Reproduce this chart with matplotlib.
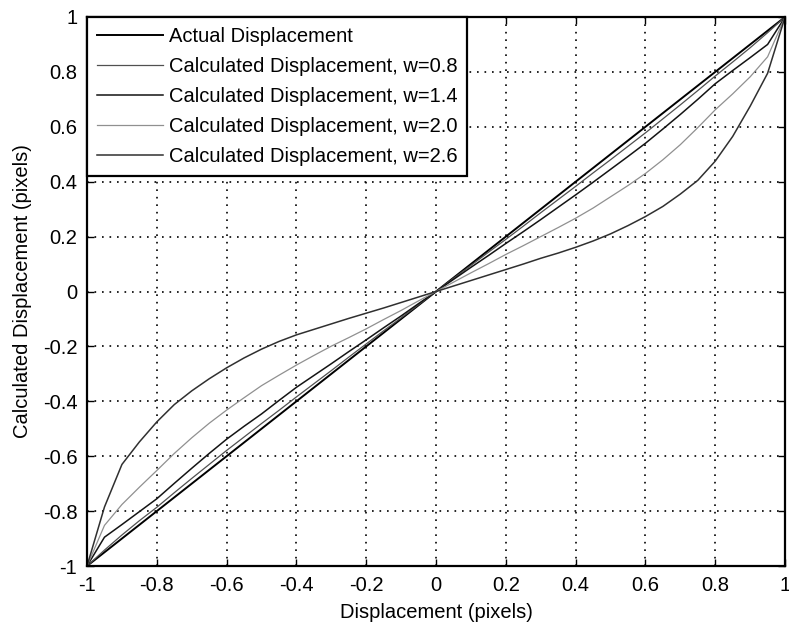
import numpy as np
import matplotlib
matplotlib.use("Agg")
import matplotlib.pyplot as plt

plt.rcParams['font.family'] = ['Liberation Sans', 'DejaVu Sans']

# Sample positions (pixels)
x = [-1.0, -0.95, -0.9, -0.85, -0.8, -0.75, -0.7, -0.65, -0.6, -0.55, -0.5,
     -0.45, -0.4, -0.35, -0.3, -0.25, -0.2, -0.15, -0.1, -0.05, 0.0,
     0.05, 0.1, 0.15, 0.2, 0.25, 0.3, 0.35, 0.4, 0.45, 0.5,
     0.55, 0.6, 0.65, 0.7, 0.75, 0.8, 0.85, 0.9, 0.95, 1.0]

actual = [-1.0, -0.95, -0.9, -0.85, -0.8, -0.75, -0.7, -0.65, -0.6, -0.55, -0.5,
          -0.45, -0.4, -0.35, -0.3, -0.25, -0.2, -0.15, -0.1, -0.05, 0.0,
          0.05, 0.1, 0.15, 0.2, 0.25, 0.3, 0.35, 0.4, 0.45, 0.5,
          0.55, 0.6, 0.65, 0.7, 0.75, 0.8, 0.85, 0.9, 0.95, 1.0]

calc_w08 = [-1.0, -0.942, -0.887, -0.835, -0.786, -0.733, -0.681, -0.63, -0.579, -0.53, -0.481,
            -0.433, -0.384, -0.336, -0.288, -0.239, -0.191, -0.143, -0.096, -0.048, 0.0,
            0.048, 0.095, 0.143, 0.19, 0.238, 0.287, 0.335, 0.383, 0.432, 0.48,
            0.529, 0.578, 0.629, 0.68, 0.732, 0.785, 0.836, 0.888, 0.943, 1.0]

calc_w14 = [-1.0, -0.895, -0.849, -0.802, -0.755, -0.699, -0.644, -0.59, -0.538, -0.491, -0.446,
            -0.397, -0.349, -0.306, -0.263, -0.219, -0.176, -0.132, -0.089, -0.044, 0.0,
            0.044, 0.088, 0.131, 0.175, 0.218, 0.262, 0.307, 0.352, 0.398, 0.445,
            0.492, 0.54, 0.592, 0.645, 0.7, 0.757, 0.805, 0.852, 0.9, 1.0]

calc_w20 = [-1.0, -0.852, -0.776, -0.713, -0.652, -0.59, -0.533, -0.48, -0.432, -0.387, -0.343,
            -0.305, -0.268, -0.233, -0.199, -0.168, -0.136, -0.102, -0.069, -0.034, 0.0,
            0.034, 0.068, 0.101, 0.135, 0.167, 0.2, 0.233, 0.267, 0.304, 0.345,
            0.386, 0.43, 0.48, 0.535, 0.597, 0.662, 0.72, 0.782, 0.855, 1.0]

calc_w26 = [-1.0, -0.785, -0.63, -0.548, -0.475, -0.412, -0.362, -0.318, -0.278, -0.242, -0.21,
            -0.182, -0.158, -0.138, -0.118, -0.098, -0.079, -0.06, -0.04, -0.02, 0.0,
            0.02, 0.04, 0.06, 0.08, 0.1, 0.121, 0.14, 0.161, 0.184, 0.21,
            0.24, 0.273, 0.31, 0.355, 0.405, 0.475, 0.565, 0.675, 0.795, 1.0]

labels = ["Actual Displacement",
          "Calculated Displacement, w=0.8",
          "Calculated Displacement, w=1.4",
          "Calculated Displacement, w=2.0",
          "Calculated Displacement, w=2.6"]

ticks = [-1, -0.8, -0.6, -0.4, -0.2, 0, 0.2, 0.4, 0.6, 0.8, 1]
tick_labels = ["-1", "-0.8", "-0.6", "-0.4", "-0.2", "0", "0.2", "0.4", "0.6", "0.8", "1"]

fig = plt.figure(figsize=(7.89, 6.25), dpi=100)
ax = fig.add_axes([0.1103, 0.0944, 0.8847, 0.8784])

series = [actual, calc_w08, calc_w14, calc_w20, calc_w26]
colors = ['#000000', '#505050', '#141414', '#909090', '#303030']
widths = [1.4, 0.9, 1.1, 0.9, 1.1]
for ys, c, lw, lab in zip(series, colors, widths, labels):
    ax.plot(x, ys, color=c, lw=lw, label=lab)

ax.set_xlim(-1, 1)
ax.set_ylim(-1, 1)
ax.set_xticks(ticks)
ax.set_xticklabels(tick_labels)
ax.set_yticks(ticks)
ax.set_yticklabels(tick_labels)
ax.tick_params(direction='in', length=5, width=1, labelsize=14.5, pad=7,
               top=True, right=True, colors='black')
ax.grid(True, color='black', linestyle=(0, (1, 3.5)), linewidth=1.2)
for sp in ax.spines.values():
    sp.set_linewidth(1.6)
    sp.set_color('black')

ax.set_xlabel("Displacement (pixels)", fontsize=14.5, labelpad=6)
ax.set_ylabel("Calculated Displacement (pixels)", fontsize=14.5, labelpad=8)

leg = ax.legend(loc='upper left', borderaxespad=0, fontsize=14.5, frameon=True,
                fancybox=False, handlelength=3.25, handletextpad=0.3,
                labelspacing=0.55, borderpad=0.5)
leg.get_frame().set_edgecolor('black')
leg.get_frame().set_linewidth(1.6)
leg.get_frame().set_alpha(1)

fig.savefig("out.png", dpi=100)
